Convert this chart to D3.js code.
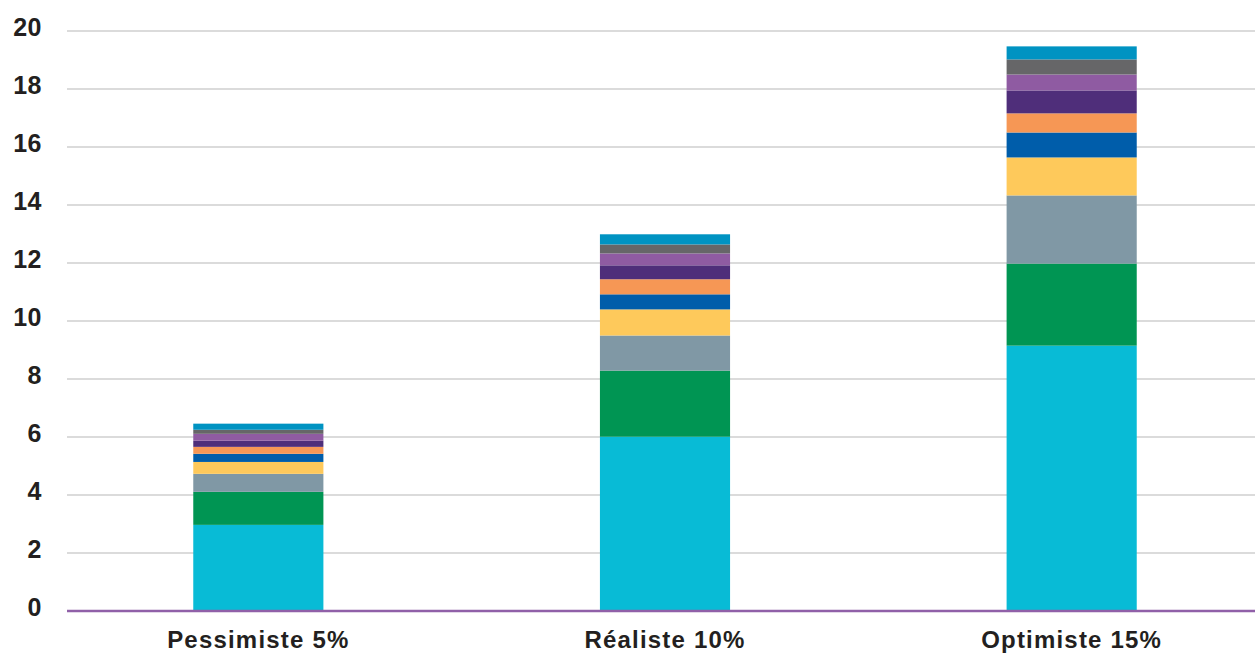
<!DOCTYPE html>
<html>
<head>
<meta charset="utf-8">
<script src="https://cdn.jsdelivr.net/npm/d3@7"></script>
<style>
  body { margin: 0; background: #fff; }
  svg { display: block; font-family: "Liberation Sans", Arial, Helvetica, sans-serif; }
</style>
</head>
<body>
<svg id="chart"></svg>
<script>
// scenarios on the x axis
const categories = ['Pessimiste 5%', 'Réaliste 10%', 'Optimiste 15%'];
const yTicks = [0, 2, 4, 6, 8, 10, 12, 14, 16, 18, 20];

// stacked segments, bottom to top (one value per scenario)
const seriesKeys = ['s1', 's2', 's3', 's4', 's5', 's6', 's7', 's8', 's9', 's10'];
const s1 = [2.97, 6.01, 9.15];
const s2 = [1.14, 2.28, 2.83];
const s3 = [0.62, 1.21, 2.35];
const s4 = [0.41, 0.90, 1.31];
const s5 = [0.28, 0.52, 0.86];
const s6 = [0.24, 0.52, 0.66];
const s7 = [0.21, 0.48, 0.79];
const s8 = [0.24, 0.41, 0.55];
const s9 = [0.14, 0.31, 0.52];
const s10 = [0.21, 0.35, 0.45];
const colors = ['#08bbd6', '#009553', '#8098a5', '#fec95b', '#005daa',
                '#f69755', '#4f2e7a', '#8f5ba2', '#666668', '#0093c2'];

const width = 1255, height = 654;
const svg = d3.select('#chart').attr('width', width).attr('height', height);

// build rows for d3.stack
const allSeries = [s1, s2, s3, s4, s5, s6, s7, s8, s9, s10];
const rows = categories.map((c, i) => {
  const r = { cat: c };
  seriesKeys.forEach((k, j) => { r[k] = allSeries[j][i]; });
  return r;
});
const stacked = d3.stack().keys(seriesKeys)(rows);

const x = d3.scaleBand().domain(categories).range([55, 1275]);
const barW = x.bandwidth() * 0.32;
const y = d3.scaleLinear().domain([0, 20]).range([611, 31]);

// gridlines
svg.append('g')
  .selectAll('line')
  .data(yTicks.filter(d => d > 0))
  .join('line')
  .attr('x1', 67).attr('x2', width)
  .attr('y1', d => y(d)).attr('y2', d => y(d))
  .attr('stroke', '#cfcfcf')
  .attr('stroke-width', 1.5);

// y tick labels
svg.append('g')
  .selectAll('text')
  .data(yTicks)
  .join('text')
  .attr('x', 42)
  .attr('y', d => y(d) - 4)
  .attr('dy', '0.35em')
  .attr('text-anchor', 'end')
  .attr('font-size', 25)
  .attr('font-weight', 'bold')
  .attr('letter-spacing', 0.5)
  .attr('fill', '#231f20')
  .text(d => d);

// bars
svg.append('g')
  .selectAll('g')
  .data(stacked)
  .join('g')
  .attr('fill', (d, i) => colors[i])
  .selectAll('rect')
  .data(d => d)
  .join('rect')
  .attr('x', d => x(d.data.cat) + (x.bandwidth() - barW) / 2)
  .attr('width', barW)
  .attr('y', d => y(d[1]))
  .attr('height', d => y(d[0]) - y(d[1]));

// zero line
svg.append('line')
  .attr('x1', 67).attr('x2', width)
  .attr('y1', y(0)).attr('y2', y(0))
  .attr('stroke', '#9060a8')
  .attr('stroke-width', 2.5);

// category labels
const xAxis = svg.append('g')
  .attr('transform', `translate(0,${y(0)})`)
  .call(d3.axisBottom(x).tickSize(0).tickPadding(0));
xAxis.select('.domain').remove();
xAxis.selectAll('text')
  .attr('y', 37)
  .attr('dy', 0)
  .attr('font-size', 24)
  .attr('font-weight', 'bold')
  .attr('letter-spacing', 1.2)
  .attr('font-family', '"Liberation Sans", Arial, sans-serif')
  .attr('fill', '#231f20');
</script>
</body>
</html>
